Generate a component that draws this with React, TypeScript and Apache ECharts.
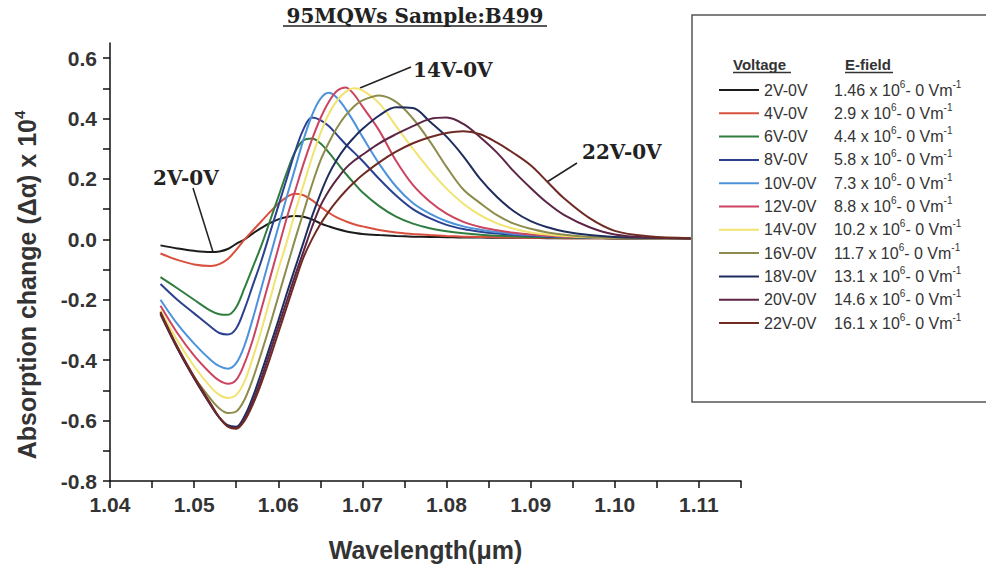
import { useEffect, useRef } from "react";
import * as echarts from "echarts";

const wavelengths = [
  1.046, 1.048, 1.050, 1.052, 1.053, 1.054, 1.055, 1.056, 1.057, 1.058,
  1.059, 1.060, 1.061, 1.062, 1.063, 1.064, 1.065, 1.066, 1.067, 1.068,
  1.069, 1.070, 1.072, 1.074, 1.076, 1.078, 1.080, 1.082, 1.084, 1.086,
  1.088, 1.090, 1.092, 1.094, 1.097, 1.100, 1.104, 1.109,
];

const v2 = [
  -0.020, -0.030, -0.038, -0.042, -0.040, -0.032, -0.015, 0.000, 0.020, 0.038,
  0.054, 0.066, 0.074, 0.077, 0.075, 0.066, 0.053, 0.043, 0.034, 0.027,
  0.022, 0.018, 0.014, 0.011, 0.009, 0.008, 0.007, 0.006, 0.006, 0.005,
  0.005, 0.005, 0.004, 0.004, 0.004, 0.003, 0.003, 0.003,
];
const v4 = [
  -0.047, -0.068, -0.083, -0.088, -0.082, -0.065, -0.035, 0.000, 0.030, 0.060,
  0.090, 0.118, 0.140, 0.151, 0.146, 0.130, 0.108, 0.088, 0.072, 0.060,
  0.050, 0.043, 0.031, 0.023, 0.018, 0.014, 0.011, 0.009, 0.008, 0.007,
  0.006, 0.005, 0.005, 0.004, 0.004, 0.003, 0.003, 0.003,
];
const v6 = [
  -0.125, -0.162, -0.200, -0.237, -0.248, -0.250, -0.225, -0.160, -0.090, -0.020,
  0.060, 0.140, 0.220, 0.290, 0.328, 0.334, 0.318, 0.288, 0.253, 0.218,
  0.186, 0.156, 0.110, 0.075, 0.052, 0.037, 0.027, 0.020, 0.015, 0.012,
  0.010, 0.008, 0.007, 0.006, 0.005, 0.004, 0.003, 0.003,
];
const v8 = [
  -0.148, -0.200, -0.245, -0.290, -0.310, -0.315, -0.295, -0.230, -0.150, -0.070,
  0.020, 0.110, 0.200, 0.290, 0.365, 0.403, 0.395, 0.375, 0.345, 0.315,
  0.288, 0.260, 0.200, 0.145, 0.100, 0.070, 0.048, 0.034, 0.025, 0.019,
  0.015, 0.012, 0.009, 0.008, 0.006, 0.005, 0.004, 0.003,
];
const v10 = [
  -0.200, -0.280, -0.345, -0.400, -0.420, -0.428, -0.410, -0.350, -0.260, -0.160,
  -0.060, 0.040, 0.140, 0.235, 0.330, 0.410, 0.465, 0.485, 0.468, 0.432,
  0.388, 0.340, 0.250, 0.175, 0.120, 0.085, 0.060, 0.043, 0.032, 0.024,
  0.018, 0.014, 0.011, 0.009, 0.007, 0.005, 0.004, 0.003,
];
const v12 = [
  -0.220, -0.310, -0.385, -0.445, -0.468, -0.478, -0.465, -0.410, -0.330, -0.230,
  -0.130, -0.030, 0.070, 0.160, 0.250, 0.330, 0.400, 0.455, 0.492, 0.503,
  0.480, 0.440, 0.360, 0.260, 0.180, 0.125, 0.085, 0.058, 0.041, 0.030,
  0.022, 0.016, 0.012, 0.009, 0.007, 0.005, 0.004, 0.003,
];
const v14 = [
  -0.235, -0.335, -0.420, -0.490, -0.515, -0.525, -0.515, -0.470, -0.390, -0.300,
  -0.200, -0.100, -0.010, 0.090, 0.180, 0.270, 0.350, 0.415, 0.460, 0.488,
  0.500, 0.493, 0.450, 0.375, 0.300, 0.230, 0.168, 0.118, 0.080, 0.053,
  0.035, 0.023, 0.016, 0.011, 0.007, 0.005, 0.004, 0.003,
];
const v16 = [
  -0.250, -0.360, -0.455, -0.530, -0.560, -0.575, -0.570, -0.530, -0.460, -0.375,
  -0.285, -0.190, -0.095, 0.000, 0.090, 0.180, 0.260, 0.320, 0.370, 0.410,
  0.440, 0.460, 0.476, 0.455, 0.400, 0.325, 0.240, 0.165, 0.120, 0.080,
  0.052, 0.035, 0.023, 0.015, 0.008, 0.005, 0.004, 0.003,
];
const v18 = [
  -0.245, -0.360, -0.460, -0.550, -0.590, -0.615, -0.620, -0.585, -0.520, -0.440,
  -0.355, -0.270, -0.180, -0.095, -0.010, 0.075, 0.150, 0.215, 0.265, 0.305,
  0.337, 0.365, 0.410, 0.437, 0.435, 0.390, 0.340, 0.275, 0.200, 0.140,
  0.093, 0.060, 0.040, 0.026, 0.014, 0.008, 0.005, 0.003,
];
const v20 = [
  -0.245, -0.360, -0.460, -0.550, -0.590, -0.618, -0.625, -0.595, -0.535, -0.460,
  -0.375, -0.290, -0.205, -0.120, -0.040, 0.040, 0.110, 0.160, 0.200, 0.235,
  0.260, 0.280, 0.318, 0.348, 0.375, 0.398, 0.403, 0.382, 0.338, 0.287,
  0.225, 0.170, 0.120, 0.080, 0.040, 0.016, 0.006, 0.003,
];
const v22 = [
  -0.240, -0.355, -0.455, -0.545, -0.590, -0.620, -0.627, -0.600, -0.545, -0.475,
  -0.395, -0.310, -0.225, -0.140, -0.060, 0.000, 0.050, 0.092, 0.128, 0.160,
  0.188, 0.213, 0.255, 0.290, 0.318, 0.338, 0.352, 0.358, 0.348, 0.320,
  0.285, 0.245, 0.190, 0.135, 0.070, 0.028, 0.010, 0.004,
];

const seriesValues = [v2, v4, v6, v8, v10, v12, v14, v16, v18, v20, v22];
const voltageLabels = [
  "2V-0V", "4V-0V", "6V-0V", "8V-0V", "10V-0V", "12V-0V",
  "14V-0V", "16V-0V", "18V-0V", "20V-0V", "22V-0V",
];
const fieldValues = ["1.46", "2.9", "4.4", "5.8", "7.3", "8.8", "10.2", "11.7", "13.1", "14.6", "16.1"];
const lineColors = [
  "#1c1c1c", "#d9503f", "#2f7d3f", "#2b4190", "#4d93dc", "#cc4460",
  "#f1e370", "#8c8c4c", "#1f2d5e", "#5c2545", "#702a24",
];
const yLabelValues = [-0.8, -0.6, -0.4, -0.2, 0, 0.2, 0.4, 0.6];
const yTickValues = [-0.8, -0.7, -0.6, -0.5, -0.4, -0.3, -0.2, -0.1, 0, 0.1, 0.2, 0.3, 0.4, 0.5, 0.6];

const SANS = '"Liberation Sans", Arial, sans-serif';
const SERIF = '"DejaVu Serif", serif';

export default function App() {
  const ref = useRef<HTMLDivElement>(null);
  useEffect(() => {
    if (!ref.current) return;
    const chart = echarts.init(ref.current, undefined, { renderer: "svg" });
    const fieldMap: Record<string, string> = {};
    voltageLabels.forEach((n, i) => (fieldMap[n] = fieldValues[i]));

    const axisLineStyle = { color: "#111", width: 1.5 };
    chart.setOption({
      animation: false,
      backgroundColor: "#ffffff",
      grid: { left: 110, right: 245, top: 43, bottom: 87 },
      xAxis: {
        type: "value",
        min: 1.04,
        max: 1.115,
        interval: 0.005,
        axisLine: { show: true, onZero: false, lineStyle: axisLineStyle },
        axisTick: { show: true, length: 7, lineStyle: axisLineStyle },
        splitLine: { show: false },
        axisLabel: {
          margin: 13,
          fontSize: 21,
          fontWeight: "bold",
          fontFamily: SANS,
          color: "#333",
          formatter: (v: number) => (Math.round(v * 1000) % 10 === 0 ? v.toFixed(2) : ""),
        },
        name: "Wavelength(μm)",
        nameLocation: "middle",
        nameGap: 56,
        nameTextStyle: { fontSize: 25, fontWeight: "bold", fontFamily: SANS, color: "#333" },
      },
      yAxis: {
        type: "value",
        min: -0.8,
        max: 0.65,
        interval: 0.1,
        axisLine: { show: true, onZero: false, lineStyle: axisLineStyle },
        axisTick: { show: true, length: 7, lineStyle: axisLineStyle, customValues: yTickValues },
        splitLine: { show: false },
        axisLabel: {
          margin: 13,
          fontSize: 21,
          fontWeight: "bold",
          fontFamily: SANS,
          color: "#333",
          customValues: yLabelValues,
          formatter: (v: number) => {
            const k = Math.round(v * 100);
            if (k % 20 !== 0 || k > 60) return "";
            return (k / 100).toFixed(1);
          },
        },
      },
      legend: {
        orient: "vertical",
        left: 718,
        top: 79,
        padding: 0,
        itemWidth: 40,
        itemHeight: 14,
        itemGap: 4.3,
        selectedMode: false,
        data: voltageLabels,
        itemStyle: { opacity: 0 },
        lineStyle: { width: 2 },
        formatter: (name: string) =>
          `{v|${name}}{e|${fieldMap[name]} x 10}{s|6}{e|- 0 Vm}{s|-1}`,
        textStyle: {
          fontSize: 16,
          fontFamily: SANS,
          color: "#333",
          rich: {
            v: { width: 70, fontSize: 16, fontFamily: SANS, color: "#333", lineHeight: 22 },
            e: { fontSize: 16, fontFamily: SANS, color: "#333", lineHeight: 22 },
            s: { fontSize: 10, fontFamily: SANS, color: "#333", lineHeight: 10, verticalAlign: "top" },
          },
        },
      },
      graphic: [
        {
          type: "text",
          x: 415,
          y: 16,
          style: {
            text: "95MQWs Sample:B499",
            fill: "#222",
            fontSize: 20,
            fontWeight: "bold",
            fontFamily: SERIF,
            align: "center",
            verticalAlign: "middle",
          },
        },
        { type: "line", shape: { x1: 283, y1: 26, x2: 547, y2: 26 }, style: { stroke: "#222", lineWidth: 1.5 } },
        {
          type: "text",
          x: 27,
          y: 285,
          rotation: Math.PI / 2,
          style: {
            text: "{a|Absorption change (Δα) x 10}{s|4}",
            align: "center",
            verticalAlign: "middle",
            rich: {
              a: { fontSize: 25, fontWeight: "bold", fontFamily: SANS, fill: "#333", lineHeight: 30 },
              s: { fontSize: 15, fontWeight: "bold", fontFamily: SANS, fill: "#333", lineHeight: 14, verticalAlign: "top" },
            },
          },
        },
        {
          type: "text",
          x: 413,
          y: 70,
          style: { text: "14V-0V", fill: "#222", fontSize: 20, fontWeight: "bold", fontFamily: SERIF, align: "left", verticalAlign: "middle" },
        },
        { type: "line", shape: { x1: 360, y1: 88, x2: 411, y2: 67 }, style: { stroke: "#222", lineWidth: 1.5 } },
        {
          type: "text",
          x: 153,
          y: 178,
          style: { text: "2V-0V", fill: "#222", fontSize: 20, fontWeight: "bold", fontFamily: SERIF, align: "left", verticalAlign: "middle" },
        },
        { type: "line", shape: { x1: 193, y1: 188, x2: 213, y2: 252 }, style: { stroke: "#222", lineWidth: 1.5 } },
        {
          type: "text",
          x: 582,
          y: 152,
          style: { text: "22V-0V", fill: "#222", fontSize: 20, fontWeight: "bold", fontFamily: SERIF, align: "left", verticalAlign: "middle" },
        },
        { type: "line", shape: { x1: 577, y1: 163, x2: 547, y2: 182 }, style: { stroke: "#222", lineWidth: 1.5 } },
        {
          type: "rect",
          shape: { x: 692, y: 15, width: 320, height: 387 },
          style: { fill: "none", stroke: "#555", lineWidth: 1.5 },
        },
        {
          type: "text",
          x: 733,
          y: 64,
          style: { text: "Voltage", fill: "#333", fontSize: 15, fontWeight: "bold", fontFamily: SANS, align: "left", verticalAlign: "middle" },
        },
        { type: "line", shape: { x1: 733, y1: 72.5, x2: 791, y2: 72.5 }, style: { stroke: "#333", lineWidth: 1.3 } },
        {
          type: "text",
          x: 845,
          y: 64,
          style: { text: "E-field", fill: "#333", fontSize: 15, fontWeight: "bold", fontFamily: SANS, align: "left", verticalAlign: "middle" },
        },
        { type: "line", shape: { x1: 845, y1: 72.5, x2: 893, y2: 72.5 }, style: { stroke: "#333", lineWidth: 1.3 } },
      ],
      series: voltageLabels.map((name, i) => ({
        name,
        type: "line",
        smooth: 0.35,
        symbol: "none",
        showSymbol: false,
        data: wavelengths.map((w, j) => [w, seriesValues[i][j]]),
        lineStyle: { color: lineColors[i], width: 2 },
        itemStyle: { color: lineColors[i] },
      })),
    });
    return () => chart.dispose();
  }, []);
  return (
    <div
      ref={ref}
      style={{ position: "absolute", left: 0, top: 0, width: 986, height: 568 }}
    />
  );
}
